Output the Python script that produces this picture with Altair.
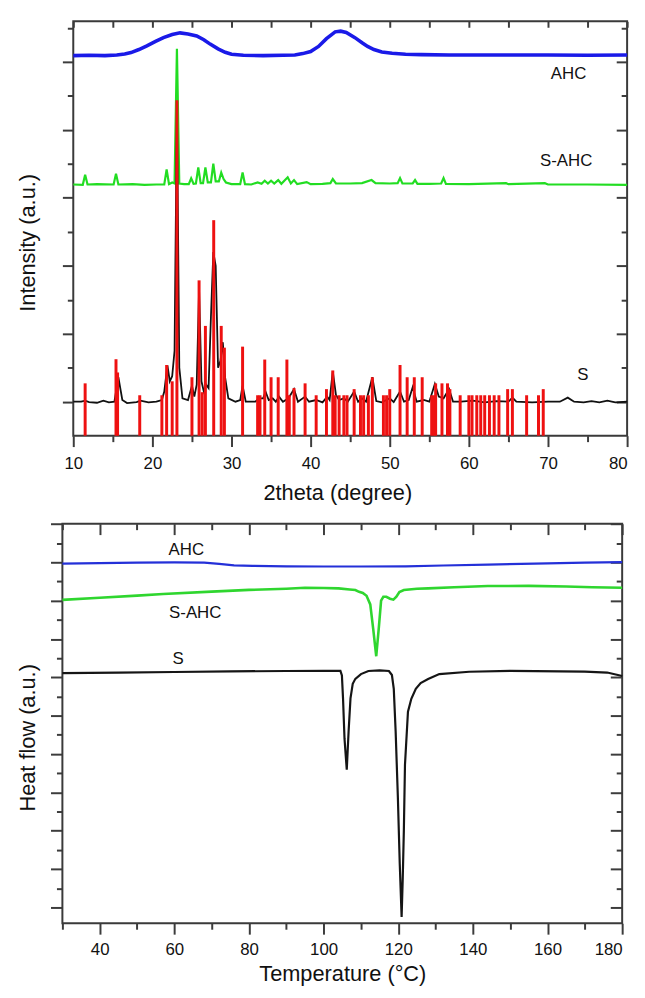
import altair as alt
import pandas as pd

FONT = "Liberation Sans"

# ---------------- XRD (top panel) ----------------
xrd_x_domain = [10, 80]
xrd_y_domain = [0, 12.19]

ahc_xrd_2theta = [10, 12, 14, 15.5, 16.5, 17.3, 18.3, 19.3, 20.4, 21.4, 22.5, 23.5, 24.5, 25.6, 26.5,
                  27.3, 28.3, 29.2, 30.0, 31.5, 34.0, 36.5, 38.0, 39.0, 40.0, 41.0, 42.0, 43.1, 43.8,
                  44.5, 45.6, 46.5, 47.2, 48.0, 49.0, 50.3, 52.0, 54.0, 57.5, 62.0, 70.0, 75.0, 80.0]
ahc_xrd_int = [11.18, 11.19, 11.18, 11.20, 11.23, 11.27, 11.36, 11.47, 11.60, 11.71, 11.80, 11.85, 11.82,
               11.76, 11.65, 11.52, 11.38, 11.28, 11.22, 11.19, 11.18, 11.19, 11.20, 11.24, 11.30, 11.45,
               11.68, 11.88, 11.90, 11.86, 11.71, 11.56, 11.45, 11.36, 11.29, 11.25, 11.22, 11.21, 11.20,
               11.20, 11.20, 11.19, 11.20]

sahc_xrd_2theta = [10.0, 11.2, 11.5, 11.8, 13.0, 15.1, 15.4, 15.7, 17.5, 19.0, 20.5, 21.5, 21.8, 22.1,
                   22.5, 22.8, 23.1, 23.4, 24.0, 24.6, 24.9, 25.2, 25.5, 25.8, 26.1, 26.4, 26.7, 27.0,
                   27.4, 27.7, 28.0, 28.4, 28.7, 29.0, 29.3, 30.0, 31.1, 31.4, 31.7, 32.5, 33.3, 33.8,
                   34.2, 34.6, 35.0, 35.4, 35.9, 36.3, 37.1, 37.5, 37.9, 38.3, 39.5, 40.0, 41.5, 42.5,
                   42.8, 43.2, 45.0, 46.5, 47.7, 48.2, 50.0, 51.0, 51.3, 51.6, 52.9, 53.2, 53.5, 55.0,
                   56.5, 56.8, 57.1, 60.0, 64.7, 65.0, 69.6, 70.0, 75.0, 80.0]
sahc_xrd_int = [7.39, 7.38, 7.68, 7.39, 7.40, 7.39, 7.71, 7.39, 7.40, 7.38, 7.39, 7.39, 7.83, 7.40,
                7.45, 7.42, 11.38, 7.42, 7.40, 7.40, 7.57, 7.41, 7.42, 7.89, 7.43, 7.43, 7.89, 7.45,
                7.45, 8.00, 7.48, 7.48, 7.74, 7.55, 7.45, 7.40, 7.40, 7.74, 7.40, 7.39, 7.45, 7.41,
                7.50, 7.42, 7.50, 7.42, 7.52, 7.41, 7.60, 7.42, 7.52, 7.40, 7.46, 7.40, 7.41, 7.43,
                7.55, 7.42, 7.42, 7.43, 7.52, 7.43, 7.42, 7.43, 7.58, 7.42, 7.42, 7.52, 7.41, 7.41,
                7.42, 7.58, 7.41, 7.40, 7.43, 7.40, 7.43, 7.39, 7.39, 7.38]

s_xrd_2theta = [10.0, 11.0, 11.5, 12.0, 13.0, 13.8, 14.5, 15.2, 15.7, 16.2, 16.8, 18.0, 18.5, 19.5,
                20.5, 21.2, 21.5, 21.9, 22.2, 22.5, 22.8, 23.1, 23.4, 23.8, 24.5, 25.0, 25.3, 25.6,
                25.9, 26.2, 26.5, 26.8, 27.1, 27.4, 27.7, 28.0, 28.3, 28.6, 28.9, 29.2, 29.6, 30.5,
                31.1, 31.4, 31.8, 33.0, 33.5, 34.0, 34.3, 34.7, 35.2, 35.6, 36.0, 36.5, 37.2, 37.9,
                38.4, 39.3, 39.8, 40.7, 41.5, 42.1, 42.4, 42.8, 43.2, 43.6, 44.2, 44.7, 45.5, 46.0,
                46.5, 47.0, 47.8, 48.3, 49.0, 50.0, 50.5, 51.3, 51.8, 52.4, 52.9, 53.4, 54.3, 55.0,
                55.7, 56.2, 56.8, 57.5, 58.0, 59.0, 60.5, 62.0, 63.5, 65.0, 65.5, 66.0, 68.0, 70.0,
                71.5, 72.5, 73.3, 74.5, 75.5, 76.5, 77.5, 78.5, 80.0]
s_xrd_int = [1.00, 1.00, 1.03, 0.99, 0.97, 1.03, 0.98, 1.00, 1.72, 1.05, 0.96, 0.99, 1.03, 0.98,
             1.00, 1.05, 1.30, 2.07, 1.60, 1.75, 2.50, 9.70, 2.00, 1.10, 1.05, 1.47, 1.15, 1.50,
             4.30, 1.60, 1.30, 1.50, 1.40, 3.50, 5.40, 5.00, 2.00, 2.20, 2.75, 1.70, 1.10, 1.00,
             1.05, 1.47, 1.00, 1.00, 1.10, 1.10, 1.30, 1.05, 1.10, 1.00, 1.15, 1.00, 1.10, 1.37,
             1.00, 1.15, 1.00, 1.05, 0.98, 1.15, 1.05, 1.89, 1.20, 1.05, 1.10, 1.00, 1.30, 1.00,
             1.10, 1.00, 1.72, 1.02, 0.98, 1.10, 0.99, 1.30, 1.00, 1.05, 1.43, 1.00, 1.05, 1.00,
             1.52, 1.15, 1.10, 1.37, 1.00, 1.00, 1.03, 0.98, 1.02, 1.00, 1.12, 1.00, 0.98, 1.00,
             1.00, 1.12, 1.00, 0.98, 1.02, 0.98, 1.03, 0.98, 1.00]

ref_2theta = [11.5, 15.4, 15.6, 18.4, 21.2, 21.8, 22.5, 23.1, 25.0, 25.9, 26.3, 26.7, 27.75, 28.7,
              29.1, 31.4, 33.3, 33.6, 34.2, 35.0, 35.9, 37.0, 37.3, 37.9, 39.3, 40.7, 42.0, 42.8,
              43.1, 43.6, 44.2, 44.6, 45.5, 46.3, 46.7, 47.3, 47.8, 49.2, 49.6, 50.0, 51.3, 52.2,
              53.1, 54.1, 55.3, 55.6, 55.8, 56.6, 57.3, 57.6, 58.9, 60.0, 60.4, 61.0, 61.5, 62.0,
              62.6, 63.2, 63.8, 64.9, 65.5, 67.3, 68.8, 69.4]
ref_int = [1.54, 2.25, 1.86, 1.19, 1.19, 2.08, 1.60, 9.87, 1.72, 4.57, 1.28, 3.23, 6.34, 3.23,
           2.59, 2.62, 1.19, 1.19, 2.24, 1.72, 1.72, 2.24, 1.19, 1.40, 1.54, 1.19, 1.37, 1.92,
           1.19, 1.19, 1.19, 1.19, 1.37, 1.19, 1.19, 1.19, 1.72, 1.19, 1.19, 1.37, 2.08, 1.72,
           1.72, 1.72, 1.19, 1.19, 1.54, 1.54, 1.54, 1.37, 1.19, 1.19, 1.19, 1.19, 1.19, 1.19,
           1.19, 1.19, 1.19, 1.37, 1.37, 1.19, 1.19, 1.37]

xrd_label_text = ["AHC", "S-AHC", "S"]
xrd_label_x = [72.6, 72.3, 74.4]
xrd_label_y = [10.65, 8.07, 1.77]

xrd_xticks_major = [10, 20, 30, 40, 50, 60, 70, 80]
xrd_xticks_minor = [15, 25, 35, 45, 55, 65, 75]
xrd_yticks_major = [1, 3, 5, 7, 9, 11]
xrd_yticks_minor = [2, 4, 6, 8, 10, 12]

# ---------------- DSC (bottom panel) ----------------
dsc_x_domain = [30, 180]
dsc_y_domain = [-0.825, 20.01]

ahc_dsc_T = [30, 40, 50, 60, 68, 72, 76, 81, 90, 100, 110, 122, 132, 144, 160, 170, 180]
ahc_dsc_hf = [17.93, 17.96, 17.98, 17.99, 17.98, 17.92, 17.84, 17.81, 17.79, 17.78, 17.78, 17.79,
              17.83, 17.88, 17.94, 17.98, 18.01]

sahc_dsc_T = [30, 40, 50, 57, 70, 80, 90, 95, 100, 104, 107, 108.5, 109.5, 110.5, 111.5, 112.5,
              113.3, 114.1, 114.8, 115.4, 116.0, 116.8, 117.8, 118.7, 119.5, 120.3, 121.5, 125,
              128, 135, 144, 155, 165, 172, 180]
sahc_dsc_hf = [16.04, 16.15, 16.26, 16.35, 16.47, 16.56, 16.62, 16.67, 16.66, 16.64, 16.58, 16.55,
               16.46, 16.40, 16.25, 15.80, 14.50, 13.10, 14.60, 16.00, 16.20, 16.20, 16.10, 16.05,
               16.20, 16.45, 16.55, 16.62, 16.64, 16.70, 16.76, 16.77, 16.74, 16.70, 16.67]

s_dsc_T = [30, 45, 60, 75, 90, 100, 104.5, 104.9, 105.2, 105.6, 106.2, 106.7, 107.2, 107.8, 108.5,
           110.0, 112.0, 115.0, 117.5, 118.3, 118.8, 119.3, 119.9, 120.4, 120.9, 121.2, 121.5,
           121.8, 122.6, 123.5, 124.7, 126, 128, 131, 139, 150, 170, 176, 180]
s_dsc_hf = [12.22, 12.25, 12.28, 12.31, 12.33, 12.34, 12.34, 12.10, 10.90, 8.80, 7.18, 9.20, 10.90,
            11.66, 11.92, 12.17, 12.33, 12.36, 12.33, 12.12, 11.40, 9.18, 5.72, 2.28, -0.50, 1.50,
            4.02, 7.44, 10.21, 10.88, 11.40, 11.70, 11.91, 12.17, 12.29, 12.34, 12.30, 12.25, 12.07]

dsc_label_text = ["AHC", "S-AHC", "S"]
dsc_label_x = [63.2, 65.6, 61.0]
dsc_label_y = [18.65, 15.35, 12.94]

dsc_xticks_major = [40, 60, 80, 100, 120, 140, 160, 180]
dsc_xticks_minor = [30, 50, 70, 90, 110, 130, 150, 170]
dsc_yticks_major = [0, 2, 4, 6, 8, 10, 12, 14, 16, 18, 20]
dsc_yticks_minor = [1, 3, 5, 7, 9, 11, 13, 15, 17, 19]

# ---------------- layout (pixels inside one shared plot area) ----------------
W, H = 571, 912
TOP_X_RANGE, TOP_Y_RANGE = [11, 571], [419, 0]
BOT_X_RANGE, BOT_Y_RANGE = [0, 566], [912, 508]

TICK_COLOR = "#3c3c3c"
FRAME_COLOR = "#3a3a3a"

AX = dict(grid=False, domain=False, tickColor=TICK_COLOR, tickWidth=2, labelFont=FONT,
          labelFontSize=17, labelColor="#111111", labelFlush=False, titleFont=FONT,
          titleFontSize=22, titleFontWeight="normal", titleColor="#111111", minExtent=0)


def ax(**kw):
    d = dict(AX)
    d.update(kw)
    return alt.Axis(**d)


def last_right(v):
    return {"condition": {"test": f"datum.value >= {v}", "value": "right"}, "value": "center"}


def scale(domain, rng):
    return alt.Scale(domain=domain, range=rng, nice=False, zero=False)


def frame(xs, ys, **extra):
    d = {"x": xs, "y": ys}
    d.update(extra)
    return pd.DataFrame(d)


def line_layer(df, color, width, xs, ys, xa=None, ya=None):
    return alt.Chart(df).mark_line(color=color, strokeWidth=width).encode(
        x=alt.X("x:Q", scale=xs, axis=xa),
        y=alt.Y("y:Q", scale=ys, axis=ya),
    )


def text_layer(df, xs, ys, xa=None, ya=None):
    return alt.Chart(df).mark_text(font=FONT, fontSize=17, color="#111111",
                                   align="center", baseline="middle").encode(
        x=alt.X("x:Q", scale=xs, axis=xa),
        y=alt.Y("y:Q", scale=ys, axis=ya),
        text="label:N",
    )


def frame_layer(xdom, ydom, xs, ys):
    df = pd.DataFrame({"x0": [xdom[0]], "x1": [xdom[1]], "y0": [ydom[0]], "y1": [ydom[1]]})
    return alt.Chart(df).mark_rect(fillOpacity=0, stroke=FRAME_COLOR, strokeWidth=2).encode(
        x=alt.X("x0:Q", scale=xs, axis=None), x2="x1:Q",
        y=alt.Y("y0:Q", scale=ys, axis=None), y2="y1:Q",
    )


# ---------------- top panel (XRD) ----------------
xs1 = scale(xrd_x_domain, TOP_X_RANGE)
ys1 = scale(xrd_y_domain, TOP_Y_RANGE)
bottom_off1 = -(H - TOP_Y_RANGE[0])      # x axis sits on the panel's lower edge
left_off1 = -TOP_X_RANGE[0]              # y axis sits on the panel's left edge

ref_df = frame(ref_2theta, ref_int, base=[0] * len(ref_2theta))
ref_layer = alt.Chart(ref_df).mark_rule(color="#ee1111", strokeWidth=3).encode(
    x=alt.X("x:Q", scale=xs1, axis=ax(orient="top", values=xrd_xticks_minor, tickSize=6,
                                      offset=-6, labels=False, title=None)),
    y=alt.Y("base:Q", scale=ys1, axis=ax(orient="right", values=xrd_yticks_minor, tickSize=6,
                                         offset=-6, labels=False, title=None)),
    y2="y:Q",
)

top_layers = [
    frame_layer(xrd_x_domain, xrd_y_domain, xs1, ys1),
    line_layer(frame(ahc_xrd_2theta, ahc_xrd_int), "#1a1ae8", 3.6, xs1, ys1,
               ax(orient="bottom", offset=bottom_off1, values=xrd_xticks_major, tickSize=11,
                  labelPadding=9, labelAlign=last_right(80), title="2theta (degree)",
                  titlePadding=12, titleX=278),
               ax(orient="left", offset=left_off1, values=xrd_yticks_major, tickSize=11, labels=False,
                  title="Intensity (a.u.)", titlePadding=22, titleY=223.5)),
    line_layer(frame(sahc_xrd_2theta, sahc_xrd_int), "#22dd22", 2.2, xs1, ys1,
               ax(orient="bottom", offset=bottom_off1, values=xrd_xticks_minor, tickSize=6,
                  labels=False, title=None),
               ax(orient="left", offset=left_off1, values=xrd_yticks_minor, tickSize=6,
                  labels=False, title=None)),
    line_layer(frame(s_xrd_2theta, s_xrd_int), "#111111", 1.8, xs1, ys1,
               ax(orient="top", values=xrd_xticks_major, tickSize=6, offset=-6, labels=False, title=None),
               ax(orient="right", values=xrd_yticks_major, tickSize=11, offset=-11, labels=False,
                  title=None)),
    ref_layer,
    text_layer(frame(xrd_label_x, xrd_label_y, label=xrd_label_text), xs1, ys1),
]

# ---------------- bottom panel (DSC) ----------------
xs2 = scale(dsc_x_domain, BOT_X_RANGE)
ys2 = scale(dsc_y_domain, BOT_Y_RANGE)
top_edge2 = BOT_Y_RANGE[1]               # panel's upper edge
right_edge2 = W - BOT_X_RANGE[1]         # gap between panel's right edge and plot edge

bottom_layers = [
    frame_layer(dsc_x_domain, dsc_y_domain, xs2, ys2),
    line_layer(frame(ahc_dsc_T, ahc_dsc_hf), "#2430d8", 2.2, xs2, ys2,
               ax(orient="bottom", values=dsc_xticks_major, tickSize=11, labelPadding=8,
                  labelAlign=last_right(180), title="Temperature (°C)", titlePadding=6),
               ax(orient="left", values=dsc_yticks_major, tickSize=12, labels=False,
                  title="Heat flow (a.u.)", titlePadding=10, titleY=724)),
    line_layer(frame(sahc_dsc_T, sahc_dsc_hf), "#2fd62f", 2.6, xs2, ys2,
               ax(orient="bottom", values=dsc_xticks_minor, tickSize=6, labels=False, title=None),
               ax(orient="left", values=dsc_yticks_minor, tickSize=6, labels=False, title=None)),
    line_layer(frame(s_dsc_T, s_dsc_hf), "#151515", 2.2, xs2, ys2,
               ax(orient="top", values=dsc_xticks_major, tickSize=11, offset=-(top_edge2 + 11),
                  labels=False, title=None),
               ax(orient="right", values=dsc_yticks_major, tickSize=12, offset=-(right_edge2 + 12),
                  labels=False, title=None)),
    text_layer(frame(dsc_label_x, dsc_label_y, label=dsc_label_text), xs2, ys2,
               ax(orient="top", values=dsc_xticks_minor, tickSize=6, offset=-(top_edge2 + 6),
                  labels=False, title=None),
               ax(orient="right", values=dsc_yticks_minor, tickSize=6, offset=-(right_edge2 + 6),
                  labels=False, title=None)),
]

chart = alt.layer(*top_layers, *bottom_layers).resolve_scale(
    x="independent", y="independent"
).resolve_axis(
    x="independent", y="independent"
).properties(
    width=W, height=H, padding={"left": 9, "top": 7, "right": 2, "bottom": 0}
).configure_view(strokeWidth=0)

chart.save("out.html", embed_options={"renderer": "svg", "actions": False})
